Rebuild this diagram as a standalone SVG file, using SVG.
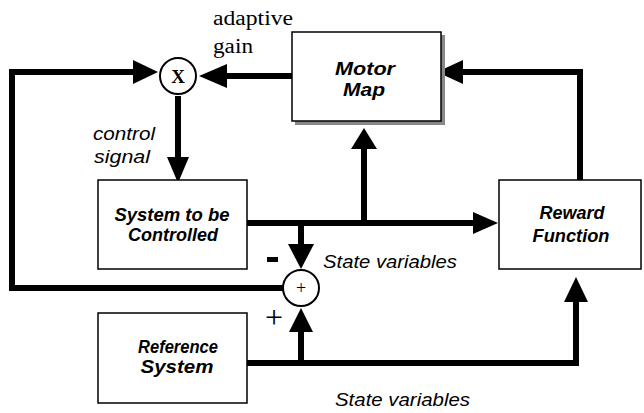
<svg xmlns="http://www.w3.org/2000/svg" width="644" height="413" viewBox="0 0 644 413">
<style>
.box{fill:#fff;stroke:#000;stroke-width:1.5}
.shadow{fill:#888}
.line{fill:none;stroke:#000;stroke-width:6;stroke-linejoin:miter}
.head{fill:#000}
.circ{fill:#fff;stroke:#000;stroke-width:2}
.lbl{font-family:"Liberation Sans",Arial,sans-serif;font-weight:bold;font-style:italic;font-size:19px;text-anchor:middle}
.it{font-family:"Liberation Sans",Arial,sans-serif;font-style:italic;font-size:18px}
.serif{font-family:"Liberation Serif","Times New Roman",serif;font-size:20px}
</style>
<rect width="644" height="413" fill="#fff"/>
<g id="connectors">
<path class="line" d="M283,288 H12 V72 H136"/>
<path class="line" d="M292,76 H224"/>
<path class="line" d="M178,96 V160"/>
<path class="line" d="M247,223 H476"/>
<path class="line" d="M364,223 V146"/>
<path class="line" d="M301,223 V246"/>
<path class="line" d="M247,363 H576 V300"/>
<path class="line" d="M301,363 V330"/>
<path class="line" d="M580,180 V72 H460"/>
<polygon class="head" points="158,72 133,60 133,84"/>
<polygon class="head" points="199,76 227,64 227,88"/>
<polygon class="head" points="178,183 167,157 189,157"/>
<polygon class="head" points="364,128 351,149 377,149"/>
<polygon class="head" points="301,269 288,244 314,244"/>
<polygon class="head" points="301,308 289,332 313,332"/>
<polygon class="head" points="498,223 473,212 473,234"/>
<polygon class="head" points="576,277 564,302 588,302"/>
<polygon class="head" points="437,72 463,60 463,84"/>
</g>
<g id="multiplier">
<circle class="circ" cx="178" cy="76" r="18"/>
<text x="178" y="83" class="serif" style="font-weight:bold;font-size:19px" text-anchor="middle">X</text>
</g>
<g id="summer">
<circle class="circ" cx="301" cy="288" r="18"/>
<text x="301" y="294" class="serif" style="font-size:18px" text-anchor="middle">+</text>
</g>
<g id="motor-map">
<rect class="shadow" x="295" y="35" width="150" height="90"/>
<rect class="box" x="292" y="32" width="149" height="89"/>
<text x="365" y="75" class="lbl" textLength="60" lengthAdjust="spacingAndGlyphs">Motor</text>
<text x="364" y="96" class="lbl" textLength="42" lengthAdjust="spacingAndGlyphs">Map</text>
</g>
<g id="system">
<rect class="box" x="98" y="180" width="149" height="89"/>
<text x="172" y="221" class="lbl" textLength="115" lengthAdjust="spacingAndGlyphs">System to be</text>
<text x="173" y="241" class="lbl" textLength="90" lengthAdjust="spacingAndGlyphs">Controlled</text>
</g>
<g id="reward">
<rect class="box" x="499" y="180" width="142" height="89"/>
<text x="572" y="219" class="lbl" textLength="65" lengthAdjust="spacingAndGlyphs">Reward</text>
<text x="571" y="242" class="lbl" textLength="77" lengthAdjust="spacingAndGlyphs">Function</text>
</g>
<g id="reference">
<rect class="box" x="98" y="313" width="149" height="90"/>
<text x="178" y="353" class="lbl" textLength="80" lengthAdjust="spacingAndGlyphs">Reference</text>
<text x="177" y="373" class="lbl" textLength="73" lengthAdjust="spacingAndGlyphs">System</text>
</g>
<g id="labels">
<text x="213" y="25" class="serif" textLength="80" lengthAdjust="spacingAndGlyphs">adaptive</text>
<text x="213" y="53" class="serif" textLength="40" lengthAdjust="spacingAndGlyphs">gain</text>
<text x="93" y="140" class="it" textLength="62" lengthAdjust="spacingAndGlyphs">control</text>
<text x="94" y="163" class="it" textLength="56" lengthAdjust="spacingAndGlyphs">signal</text>
<text x="323" y="268" class="it" textLength="134" lengthAdjust="spacingAndGlyphs">State variables</text>
<text x="335" y="406" class="it" textLength="135" lengthAdjust="spacingAndGlyphs">State variables</text>
<rect x="267" y="257" width="11" height="5" fill="#000"/>
<text x="274" y="328" class="serif" style="font-size:32px" text-anchor="middle">+</text>
</g>
</svg>
